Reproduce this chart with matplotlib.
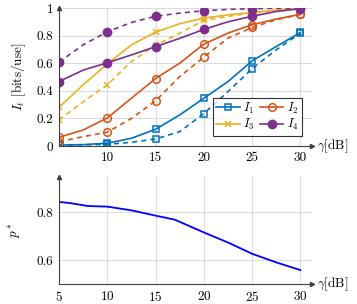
import matplotlib.pyplot as plt
import numpy as np

plt.rcParams['font.family'] = 'serif'
plt.rcParams['font.serif'] = ['cmr10', 'DejaVu Serif']
plt.rcParams['mathtext.fontset'] = 'cm'
plt.rcParams['axes.formatter.use_mathtext'] = True

gamma = [5, 7.5, 10, 12.5, 15, 17.5, 20, 22.5, 25, 27.5, 30]

i1 = [0.007, 0.01, 0.02, 0.056, 0.121, 0.225, 0.346, 0.467, 0.617, 0.721, 0.823]
i1_d = [0.005, 0.008, 0.012, 0.027, 0.051, 0.104, 0.235, 0.394, 0.561, 0.697, 0.818]
i2 = [0.063, 0.116, 0.203, 0.346, 0.489, 0.6, 0.738, 0.818, 0.879, 0.92, 0.954]
i2_d = [0.031, 0.068, 0.1, 0.2, 0.327, 0.503, 0.644, 0.782, 0.859, 0.915, 0.954]
i3 = [0.28, 0.443, 0.595, 0.733, 0.825, 0.886, 0.927, 0.95, 0.968, 0.985, 0.995]
i3_d = [0.189, 0.32, 0.443, 0.612, 0.73, 0.818, 0.91, 0.94, 0.963, 0.982, 0.995]
i4 = [0.467, 0.55, 0.603, 0.66, 0.72, 0.78, 0.845, 0.9, 0.94, 0.975, 0.995]
i4_d = [0.608, 0.733, 0.828, 0.895, 0.94, 0.963, 0.98, 0.99, 0.995, 0.998, 1.0]

gamma_p = [5, 6, 8, 10, 12.5, 15, 17, 20, 22.5, 25, 27.5, 30]
p_star = [0.842, 0.838, 0.825, 0.8225, 0.807, 0.785, 0.768, 0.715, 0.673, 0.626, 0.59, 0.558]

c1, c2, c3, c4 = '#0072BD', '#D95319', '#EDB120', '#7E2F8E'
axcol = '#404040'
gridcol = '#dcdcdc'
fs = 9.5

fig = plt.figure(figsize=(3.57, 3.04), dpi=100)
ax1 = fig.add_axes([59/357, 1-146/304, 253/357, 138/304])
ax2 = fig.add_axes([59/357, 1-284/304, 253/357, 107/304])

styles = [
    (i1, i1_d, c1, 's', dict(mfc='none', mew=1.1, ms=5), '$I_1$'),
    (i2, i2_d, c2, 'o', dict(mfc='none', mew=1.1, ms=5.5), '$I_2$'),
    (i3, i3_d, c3, 'x', dict(mew=1.1, ms=4.5), '$I_3$'),
    (i4, i4_d, c4, 'o', dict(mfc=c4, ms=6), '$I_4$'),
]
handles = {}
for solid, dashed, col, mk, kw, lab in styles:
    h, = ax1.plot(gamma, solid, color=col, lw=1.2, marker=mk, markevery=2, label=lab, **kw)
    ax1.plot(gamma, dashed, color=col, lw=1.2, ls=(0, (3, 2.5)), marker=mk, markevery=2, **kw)
    handles[lab] = h

ax2.plot(gamma_p, p_star, color='#0000FF', lw=1.3)

for ax in (ax1, ax2):
    ax.set_xlim(5, 31.2)
    ax.set_xticks([5, 10, 15, 20, 25, 30])
    ax.grid(True, color=gridcol, lw=0.8)
    ax.set_axisbelow(True)
    ax.spines['top'].set_visible(False)
    ax.spines['right'].set_visible(False)
    ax.spines['left'].set_color(axcol)
    ax.spines['bottom'].set_color(axcol)
    ax.tick_params(axis='both', length=0, labelsize=fs, colors='black', pad=4)
    ax.plot(1, 0, '>', color=axcol, ms=3, transform=ax.transAxes, clip_on=False)
    ax.plot(0, 1, '^', color=axcol, ms=3, transform=ax.transAxes, clip_on=False)
    ax.annotate(r'$\gamma$[dB]', xy=(1.02, 0), xycoords='axes fraction',
                ha='left', va='center', fontsize=fs)

ax1.set_ylim(0, 1)
ax1.set_yticks([0, 0.2, 0.4, 0.6, 0.8, 1])
ax1.set_yticklabels(['0', '0.2', '0.4', '0.6', '0.8', '1'])
ax1.set_xticklabels(['', '10', '15', '20', '25', '30'])
ax1.set_ylabel('$I_t$ [bits/use]', fontsize=fs, labelpad=6)

ax2.set_ylim(0.5, 0.946)
ax2.set_yticks([0.6, 0.8])
ax2.set_yticklabels(['0.6', '0.8'])
ax2.set_ylabel('$p^*$', fontsize=fs, labelpad=10)

leg = ax1.legend([handles['$I_1$'], handles['$I_3$'], handles['$I_2$'], handles['$I_4$']],
                 ['$I_1$', '$I_3$', '$I_2$', '$I_4$'], ncol=2, loc='lower right',
                 bbox_to_anchor=(0.985, 0.03), fontsize=9, frameon=True, fancybox=False,
                 edgecolor='black', handlelength=1.9, columnspacing=0.4,
                 handletextpad=0.3, borderpad=0.25, labelspacing=0.12)
leg.get_frame().set_linewidth(0.8)

plt.savefig('out.png', dpi=100)
